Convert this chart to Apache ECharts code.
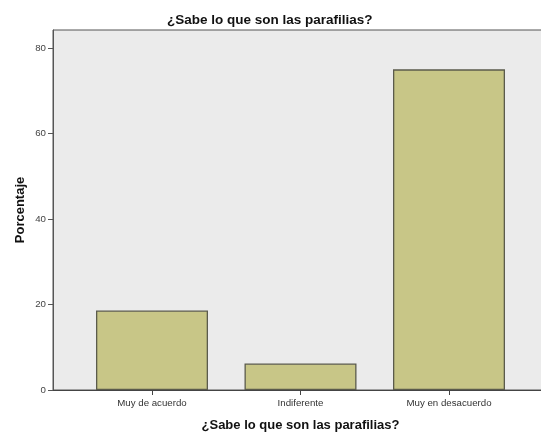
<!DOCTYPE html>
<html><head><meta charset="utf-8">
<script src="https://cdn.jsdelivr.net/npm/echarts@6/dist/echarts.min.js"></script>
<style>html,body{margin:0;padding:0;background:#fff}#c{width:541px;height:432px}</style>
</head><body><div id="c"></div>
<script>
const title = "¿Sabe lo que son las parafilias?";
const categories = ["Muy de acuerdo", "Indiferente", "Muy en desacuerdo"];
const values = [18.6, 6.2, 75.0];
const yTicks = [0, 20, 40, 60, 80];

const yMax = 84.2;
const chart = echarts.init(document.getElementById('c'));
const font = 'Liberation Sans, Arial, sans-serif';
chart.setOption({
  animation: false,
  title: { text: title, left: 162, top: 8,
    textStyle: { fontFamily: font, fontSize: 13.5, fontWeight: 'bold', color: '#111' } },
  grid: [
    { left: 53, right: -6, top: 30, bottom: 42, show: true, backgroundColor: '#ebebeb', borderColor: '#555', borderWidth: 1, outerBoundsMode: 'none', containLabel: false },
    { left: 77.75, width: 445.5, top: 30, bottom: 42, outerBoundsMode: 'none', containLabel: false }
  ],
  xAxis: [
    { gridIndex: 0, type: 'value', min: 0, max: 1, show: true,
      axisLine: { show: true, lineStyle: { color: '#444', width: 1 } },
      axisTick: { show: false }, axisLabel: { show: false }, splitLine: { show: false } },
    { gridIndex: 1, type: 'category', data: categories,
      axisLine: { show: false },
      axisTick: { show: true, alignWithLabel: true, length: 5, lineStyle: { color: '#444' } },
      axisLabel: { fontFamily: font, fontSize: 9.7, color: '#333', margin: 8 },
      name: title, nameLocation: 'middle', nameGap: 29,
      nameTextStyle: { fontFamily: font, fontSize: 13, fontWeight: 'bold', color: '#111' } }
  ],
  yAxis: [
    { gridIndex: 0, type: 'value', min: 0, max: yMax, interval: 20,
      axisLine: { show: true, lineStyle: { color: '#555' } },
      axisTick: { show: true, length: 5, lineStyle: { color: '#555' }, customValues: yTicks },
      axisLabel: { fontFamily: font, fontSize: 9.7, color: '#444', margin: 7, customValues: yTicks },
      splitLine: { show: false },
      name: 'Porcentaje', nameLocation: 'middle', nameGap: 26.5, nameRotate: 90, nameMoveOverlap: false,
      nameTextStyle: { fontFamily: font, fontSize: 13, fontWeight: 'bold', color: '#111' } },
    { gridIndex: 1, type: 'value', min: 0, max: yMax, show: false }
  ],
  series: [{
    type: 'bar', xAxisIndex: 1, yAxisIndex: 1, data: values, barWidth: 112,
    itemStyle: { color: '#c8c687', borderColor: '#5b5b4c', borderWidth: 1.3 }
  }]
});
</script></body></html>
